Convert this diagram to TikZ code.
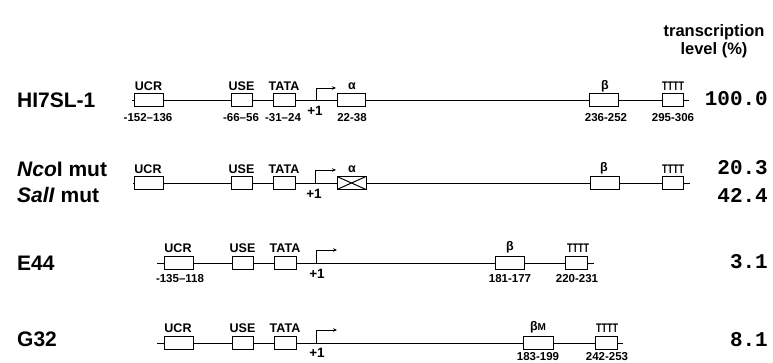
\documentclass[tikz,border=0pt]{standalone}
\usepackage{fontspec}
\usepackage{graphicx}
\setmainfont{Liberation Sans}
\newfontfamily\pctfont{Liberation Mono}
\usetikzlibrary{arrows.meta}
\tikzset{
  gbox/.style={draw, line width=1pt, fill=white, minimum height=13pt, inner sep=0pt},
  xbox/.style={gbox, path picture={\draw[line width=1pt] (path picture bounding box.south west) -- (path picture bounding box.north east) (path picture bounding box.north west) -- (path picture bounding box.south east);}},
  backbone/.style={line width=0.9pt},
  prom/.style={line width=0.9pt, -{Stealth[length=4pt,width=3.5pt]}},
  lbl/.style={font=\bfseries\fontsize{12.5}{12.5}\selectfont, inner sep=0pt},
  coordlbl/.style={font=\bfseries\fontsize{11.5}{11.5}\selectfont, inner sep=0pt},
  plus/.style={font=\bfseries\fontsize{13.5}{13.5}\selectfont, inner sep=0pt},
  rowname/.style={font=\bfseries\fontsize{21}{21}\selectfont, anchor=west, inner sep=0pt},
  pct/.style={font=\pctfont\bfseries\fontsize{21}{21}\selectfont, anchor=east, inner sep=0pt},
  head/.style={font=\bfseries\fontsize{16.5}{16.5}\selectfont, anchor=base, inner sep=0pt},
}
\newcommand{\tttt}{\scalebox{0.72}[1]{TTTT}}
\begin{document}
\begin{tikzpicture}[x=1pt,y=-1pt]
\useasboundingbox (0,0) rectangle (773,363);

% header
\node[head] (h1) at (714,37) {transcription};
\node[head] (h2) at (714,55) {level (\%)};

% ---------------- Row 1: HI7SL-1 ----------------
\node[rowname] (n1) at (17,100) {HI7SL-1};
\coordinate (s1) at (132,100);
\coordinate (e1) at (689,100);
\draw[backbone] (s1) -- (e1);
\node[gbox, minimum width=29] (ucr1) at (148.5,100) {};
\node[gbox, minimum width=21] (use1) at (241.5,100) {};
\node[gbox, minimum width=22] (tata1) at (284,100) {};
\node[gbox, minimum width=28] (a1) at (351,100) {};
\node[gbox, minimum width=29] (b1) at (603.5,100) {};
\node[gbox, minimum width=21] (t1) at (672.5,100) {};
\coordinate (p1) at (316,100);
\coordinate (p1e) at (336,88);
\draw[prom] (p1) |- (p1e);
\node[lbl] (lucr1) at (148.5,86) {UCR};
\node[lbl] (luse1) at (241.5,86) {USE};
\node[lbl] (ltata1) at (284,86) {TATA};
\node[lbl] (la1) at (352,86) {α};
\node[lbl] (lb1) at (605,86) {β};
\node[lbl] (lt1) at (673,86) {\tttt};
\node[coordlbl] (q1) at (148,118) {-152–136};
\node[coordlbl] (q2) at (241,118) {-66–56};
\node[coordlbl] (q3) at (283,118) {-31–24};
\node[coordlbl] (q4) at (352,118) {22-38};
\node[coordlbl] (q5) at (606,118) {236-252};
\node[coordlbl] (q6) at (673,118) {295-306};
\node[plus] (pl1) at (315,111) {+1};
\node[pct] (v1) at (768,99) {100.0};

% ---------------- Row 2: NcoI / SalI mut ----------------
\node[rowname] (n2a) at (17,169) {\textit{Nco}I mut};
\node[rowname] (n2b) at (17,195) {\textit{SalI} mut};
\coordinate (s2) at (133,183);
\coordinate (e2) at (690,183);
\draw[backbone] (s2) -- (e2);
\node[gbox, minimum width=29] (ucr2) at (148.5,183) {};
\node[gbox, minimum width=21] (use2) at (241.5,183) {};
\node[gbox, minimum width=22] (tata2) at (284,183) {};
\node[xbox, minimum width=29] (a2) at (351.5,183) {};
\node[gbox, minimum width=29] (b2) at (604.5,183) {};
\node[gbox, minimum width=21] (t2) at (672.5,183) {};
\coordinate (p2) at (315,183);
\coordinate (p2e) at (336,170);
\draw[prom] (p2) |- (p2e);
\node[lbl] (lucr2) at (148,169) {UCR};
\node[lbl] (luse2) at (241.5,169) {USE};
\node[lbl] (ltata2) at (284,169) {TATA};
\node[lbl] (la2) at (352,169) {α};
\node[lbl] (lb2) at (604,168) {β};
\node[lbl] (lt2) at (673,169) {\tttt};
\node[plus] (pl2) at (314,194) {+1};
\node[pct] (v2a) at (768,168) {20.3};
\node[pct] (v2b) at (768,195) {42.4};

% ---------------- Row 3: E44 ----------------
\node[rowname] (n3) at (17,263) {E44};
\coordinate (s3) at (157,263);
\coordinate (e3) at (594,263);
\draw[backbone] (s3) -- (e3);
\node[gbox, minimum width=29] (ucr3) at (178.5,263) {};
\node[gbox, minimum width=21] (use3) at (242.5,263) {};
\node[gbox, minimum width=22] (tata3) at (285,263) {};
\node[gbox, minimum width=29] (b3) at (509.5,263) {};
\node[gbox, minimum width=22] (t3) at (576,263) {};
\coordinate (p3) at (316,263);
\coordinate (p3e) at (337,250);
\draw[prom] (p3) |- (p3e);
\node[lbl] (lucr3) at (178,248) {UCR};
\node[lbl] (luse3) at (242.5,248) {USE};
\node[lbl] (ltata3) at (285,248) {TATA};
\node[lbl] (lb3) at (510,247) {β};
\node[lbl] (lt3) at (578,248) {\tttt};
\node[coordlbl] (q7) at (180,279) {-135–118};
\node[coordlbl] (q8) at (510,279) {181-177};
\node[coordlbl] (q9) at (577,279) {220-231};
\node[plus] (pl3) at (317,274) {+1};
\node[pct] (v3) at (768,262) {3.1};

% ---------------- Row 4: G32 ----------------
\node[rowname] (n4) at (17,339) {G32};
\coordinate (s4) at (157,343);
\coordinate (e4) at (623,343);
\draw[backbone] (s4) -- (e4);
\node[gbox, minimum width=29] (ucr4) at (178.5,343) {};
\node[gbox, minimum width=21] (use4) at (242.5,343) {};
\node[gbox, minimum width=22] (tata4) at (285,343) {};
\node[gbox, minimum width=30] (b4) at (538,343) {};
\node[gbox, minimum width=22] (t4) at (606,343) {};
\coordinate (p4) at (316,343);
\coordinate (p4e) at (337,330);
\draw[prom] (p4) |- (p4e);
\node[lbl] (lucr4) at (178,328) {UCR};
\node[lbl] (luse4) at (242.5,328) {USE};
\node[lbl] (ltata4) at (285,328) {TATA};
\node[lbl] (lb4) at (538,327) {β\scalebox{0.8}{M}};
\node[lbl] (lt4) at (607,328) {\tttt};
\node[coordlbl] (q10) at (538,357) {183-199};
\node[coordlbl] (q11) at (607,357) {242-253};
\node[plus] (pl4) at (317,353) {+1};
\node[pct] (v4) at (768,340) {8.1};
\end{tikzpicture}
\end{document}
